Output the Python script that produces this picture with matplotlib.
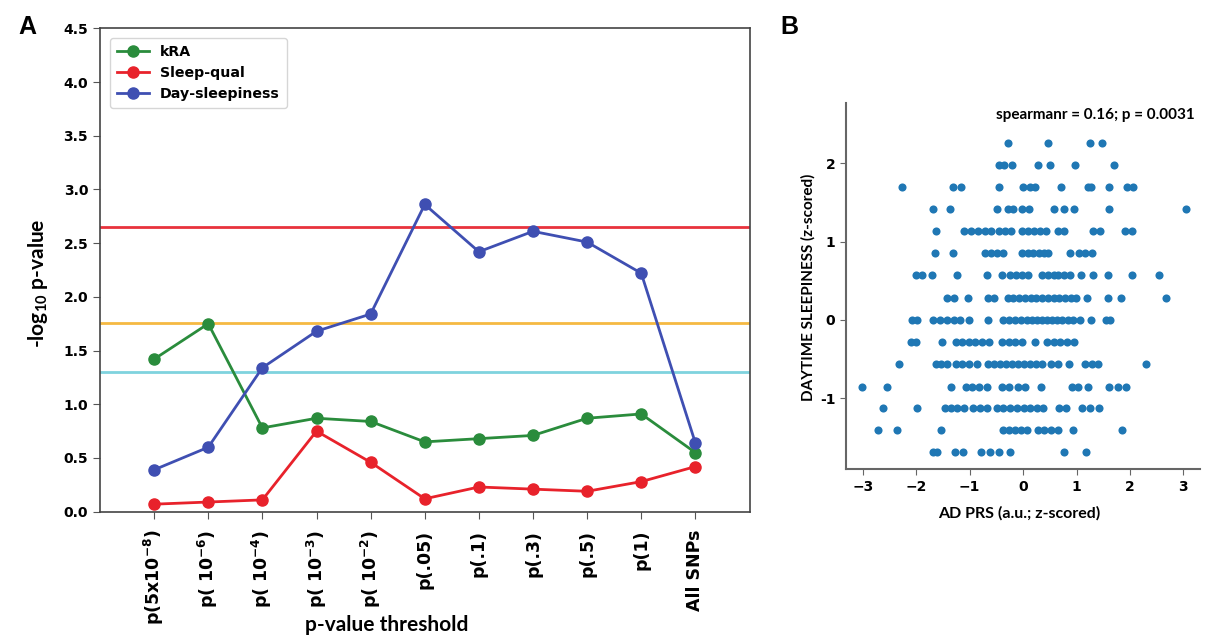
import matplotlib.pyplot as plt
import numpy as np

plt.rcParams['mathtext.default'] = 'regular'

# ---- panel A data ----
thresholds = ['p($5x10^{-8}$)', 'p( $10^{-6}$)', 'p( $10^{-4}$)', 'p( $10^{-3}$)',
              'p( $10^{-2}$)', 'p(.05)', 'p(.1)', 'p(.3)', 'p(.5)', 'p(1)', 'All SNPs']
kra = [1.42, 1.75, 0.78, 0.87, 0.84, 0.65, 0.68, 0.71, 0.87, 0.91, 0.55]
sleep_qual = [0.07, 0.09, 0.11, 0.75, 0.46, 0.12, 0.23, 0.21, 0.19, 0.28, 0.42]
day_sleepiness = [0.39, 0.60, 1.34, 1.68, 1.84, 2.86, 2.42, 2.61, 2.51, 2.22, 0.64]
sig_levels = [2.65, 1.76, 1.30]
sig_colors = ['#e8323c', '#f5b942', '#7fd3de']

# ---- panel B data (one list of PRS values per sleepiness level) ----
ess_levels = [2.26, 1.98, 1.70, 1.42, 1.13, 0.85, 0.57, 0.28, 0.0,
              -0.28, -0.56, -0.85, -1.13, -1.41, -1.69]
prs_rows = [
    [-0.29, 0.47, 1.26, 1.48],
    [-0.46, -0.36, -0.21, 0.27, 0.50, 0.98, 1.70],
    [-2.26, -1.32, -1.16, -0.46, -0.01, 0.13, 0.22, 0.70, 1.21, 1.27, 1.60, 1.94, 2.05],
    [-1.68, -1.36, -0.49, -0.29, -0.19, -0.03, 0.11, 0.58, 0.77, 0.96, 1.60, 3.04],
    [-1.63, -1.10, -0.97, -0.85, -0.72, -0.61, -0.45, -0.34, -0.22, -0.02, 0.09,
     0.20, 0.31, 0.43, 0.66, 0.77, 1.30, 1.44, 1.90, 2.03],
    [-1.65, -1.31, -0.72, -0.60, -0.48, -0.38, -0.02, 0.09, 0.19, 0.30, 0.40, 0.47,
     0.88, 1.04, 1.16, 1.28],
    [-2.00, -1.89, -1.70, -1.23, -0.67, -0.40, -0.24, -0.14, -0.02, 0.09, 0.35, 0.47,
     0.57, 0.66, 0.77, 0.88, 1.08, 1.30, 1.58, 2.04, 2.54],
    [-1.43, -1.30, -1.03, -0.66, -0.54, -0.29, -0.18, -0.07, 0.04, 0.14, 0.25, 0.36,
     0.46, 0.57, 0.67, 0.78, 0.89, 0.99, 1.20, 1.58, 1.83, 2.67],
    [-2.08, -1.99, -1.68, -1.55, -1.43, -1.30, -1.18, -1.01, -0.66, -0.37, -0.26,
     -0.15, -0.04, 0.07, 0.16, 0.26, 0.35, 0.44, 0.54, 0.63, 0.72, 0.84, 0.94, 1.07,
     1.27, 1.55, 1.63],
    [-2.09, -2.01, -1.52, -1.26, -1.15, -1.02, -0.90, -0.77, -0.64, -0.40, -0.27,
     -0.15, -0.02, 0.22, 0.44, 0.57, 0.69, 0.82, 0.96],
    [-2.33, -1.63, -1.53, -1.43, -1.26, -1.15, -1.01, -0.87, -0.65, -0.54, -0.43,
     -0.32, -0.21, -0.10, 0.01, 0.12, 0.24, 0.36, 0.52, 0.66, 0.85, 1.16, 1.28, 1.40, 2.30],
    [-3.02, -2.54, -1.35, -1.07, -0.95, -0.82, -0.68, -0.40, -0.27, -0.09, 0.04, 0.34,
     0.91, 1.03, 1.22, 1.60, 1.78, 1.93],
    [-2.62, -1.99, -1.46, -1.35, -1.24, -1.10, -0.93, -0.80, -0.68, -0.49, -0.37,
     -0.24, -0.12, 0.01, 0.13, 0.26, 0.38, 0.67, 0.80, 1.11, 1.25, 1.42],
    [-2.72, -2.36, -1.54, -0.37, -0.26, -0.15, -0.04, 0.07, 0.27, 0.40, 0.52, 0.66,
     0.94, 1.85],
    [-1.68, -1.61, -1.27, -1.12, -0.78, -0.62, -0.46, -0.24, 0.77, 1.17],
]
spearman_text = 'spearmanr = 0.16; p = 0.0031'

W, H = 1211, 641
label_font = 'Lato'

fig = plt.figure(figsize=(W / 100, H / 100), dpi=100)
fig.patch.set_facecolor('white')

# ---------------- panel A ----------------
axA = fig.add_axes([100 / W, 1 - 511.7 / H, 649.5 / W, 483.4 / H])
xs = np.arange(len(thresholds))
for yv, c in zip(sig_levels, sig_colors):
    axA.axhline(yv, color=c, lw=2, zorder=1)
axA.plot(xs, kra, '-o', color='#2a8c3c', lw=2, ms=8, label='kRA', zorder=3)
axA.plot(xs, sleep_qual, '-o', color='#e8222b', lw=2, ms=8, label='Sleep-qual', zorder=3)
axA.plot(xs, day_sleepiness, '-o', color='#3f4fb2', lw=2, ms=8, label='Day-sleepiness', zorder=3)

axA.set_xlim(-1, 11)
axA.set_ylim(0, 4.5)
axA.set_yticks(np.arange(0, 4.51, 0.5))
axA.set_yticklabels(['%.1f' % v for v in np.arange(0, 4.51, 0.5)], fontweight='bold', fontsize=10)
axA.set_xticks(xs)
axA.set_xticklabels(thresholds, rotation=90, fontweight='bold', fontsize=12.5)
axA.tick_params(axis='both', direction='out', length=5, color='#555555')
axA.tick_params(axis='x', pad=8)
for s in axA.spines.values():
    s.set_color('#444444')
    s.set_linewidth(1.2)

leg = axA.legend(loc='upper left', prop={'weight': 'bold', 'size': 10.2},
                 handlelength=2.2, borderpad=0.5, labelspacing=0.5,
                 bbox_to_anchor=(0.005, 0.995))
leg.get_frame().set_edgecolor('#cccccc')

fig.text(38 / W, 1 - 283 / H, '-log$_{10}$ p-value', rotation=90, ha='center', va='center',
         fontsize=15, fontweight='bold', family=label_font)
fig.text(387 / W, 1 - 625 / H, 'p-value threshold', ha='center', va='center',
         fontsize=15, fontweight='bold', family=label_font)

# ---------------- panel B ----------------
axB = fig.add_axes([845.7 / W, 1 - 469.3 / H, (1200 - 845.7) / W, 366.3 / H])
px, py = [], []
for lvl, row in zip(ess_levels, prs_rows):
    px.extend(row)
    py.extend([lvl] * len(row))
axB.scatter(px, py, s=34, color='#1f77b4', linewidths=0, zorder=3)
axB.set_xlim(-3.32, 3.31)
axB.set_ylim(-1.907, 2.771)
axB.set_xticks([-3, -2, -1, 0, 1, 2, 3])
axB.set_xticklabels(['\u22123', '\u22122', '\u22121', '0', '1', '2', '3'],
                    fontweight='bold', fontsize=10)
axB.set_yticks([-1, 0, 1, 2])
axB.set_yticklabels(['-1', '0', '1', '2'], fontweight='bold', fontsize=10)
axB.spines['top'].set_visible(False)
axB.spines['right'].set_visible(False)
for s in ['left', 'bottom']:
    axB.spines[s].set_color('#666666')
    axB.spines[s].set_linewidth(1.5)
axB.tick_params(direction='out', length=4, color='#666666')

fig.text(1195 / W, 1 - 115 / H, spearman_text, ha='right', va='center',
         fontsize=11, fontweight='bold', family=label_font)
fig.text(808 / W, 1 - 287 / H, 'DAYTIME SLEEPINESS (z-scored)', rotation=90,
         ha='center', va='center', fontsize=11, fontweight='bold', family=label_font)
fig.text(1019 / W, 1 - 513 / H, 'AD PRS (a.u.; z-scored)', ha='center', va='center',
         fontsize=11.5, fontweight='bold', family=label_font)

# panel letters
fig.text(27 / W, 1 - 27 / H, 'A', ha='center', va='center', fontsize=18,
         fontweight='bold', family='Liberation Sans')
fig.text(789 / W, 1 - 27 / H, 'B', ha='center', va='center', fontsize=18,
         fontweight='bold', family='Liberation Sans')

fig.savefig('out.png', dpi=100)
